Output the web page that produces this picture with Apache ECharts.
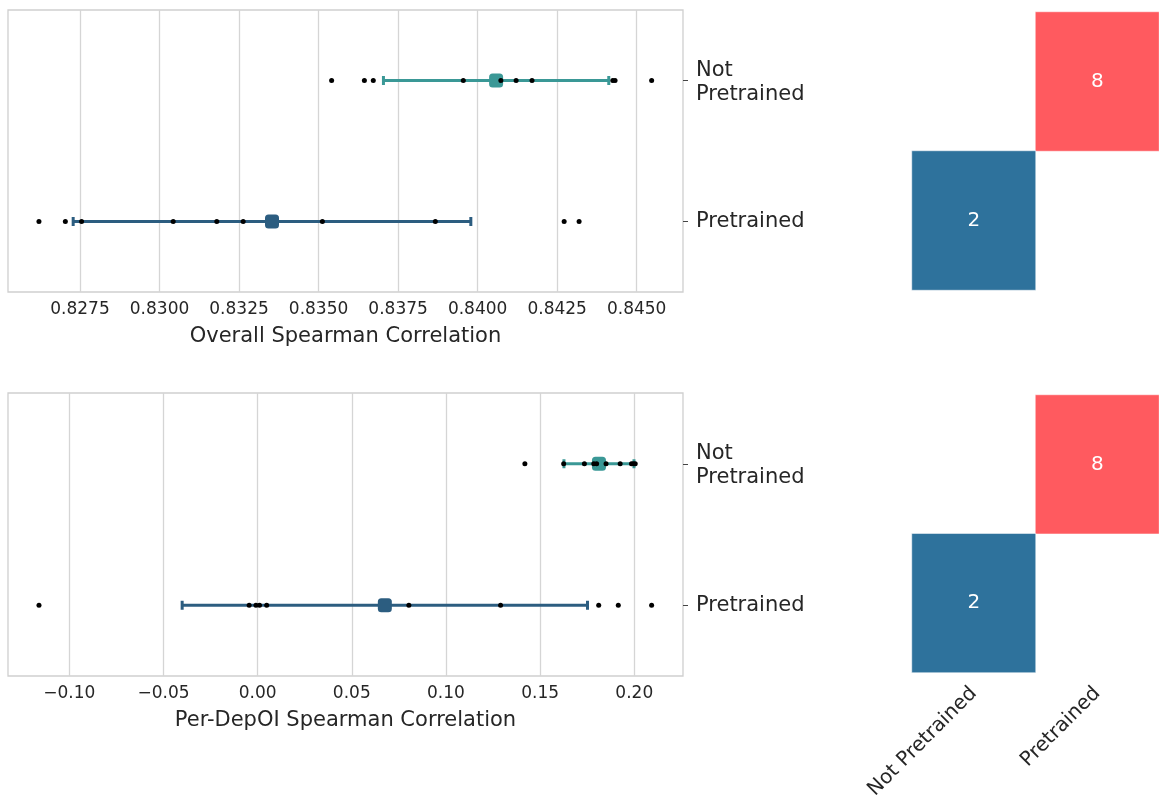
<!DOCTYPE html>
<html>
<head>
<meta charset="utf-8">
<script src="https://cdn.jsdelivr.net/npm/echarts@6/dist/echarts.min.js"></script>
<style>
html,body{margin:0;padding:0;background:#fff;}
#chart{width:1159px;height:802px;}
</style>
</head>
<body>
<div id="chart"></div>
<script>
// ---- data ----
const groups = ['Pretrained', 'Not Pretrained']; // bottom -> top
const overallNotPretrained = [0.83541, 0.83644, 0.83672, 0.83955, 0.84073, 0.84121, 0.84171, 0.84425, 0.84432, 0.84547];
const overallPretrained = [0.82621, 0.82704, 0.82755, 0.83043, 0.83180, 0.83263, 0.83512, 0.83867, 0.84272, 0.84319];
const perNotPretrained = [0.1419, 0.1625, 0.1735, 0.1785, 0.1800, 0.1850, 0.1925, 0.1985, 0.1995, 0.2005];
const perPretrained = [-0.1161, -0.0045, -0.0009, 0.0010, 0.0048, 0.0803, 0.1290, 0.1811, 0.1915, 0.2092];
const overallTicks = [0.8275, 0.8300, 0.8325, 0.8350, 0.8375, 0.8400, 0.8425, 0.8450];
const perTicks = [-0.10, -0.05, 0.00, 0.05, 0.10, 0.15, 0.20];
const heatCols = ['Not Pretrained', 'Pretrained'];
const heatRows = ['Pretrained', 'Not Pretrained']; // bottom -> top
const heatTop = [[1, 1, 8], [0, 0, 2]];       // [col, row, count]
const heatBottom = [[1, 1, 8], [0, 0, 2]];

// ---- styles ----
const colorNot = '#3a9896';
const colorPre = '#2c5d80';
const heatColors = {8: '#ff5a5f', 2: '#2e729c'};
const FONT = 'DejaVu Sans';
const TXT = '#262626';

function meanSd(a) {
  const m = a.reduce((s, v) => s + v, 0) / a.length;
  const v = a.reduce((s, x) => s + (x - m) * (x - m), 0) / (a.length - 1);
  return [m, Math.sqrt(v)];
}

function fmtTop(v) { return Number(v).toFixed(4); }
function fmtBot(v) { const s = Math.abs(v).toFixed(2); return (v < -1e-9 ? '\u2212' : '') + s; }

const chart = echarts.init(document.getElementById('chart'), null, {renderer: 'canvas'});

const grids = [
  {left: 8, top: 10, width: 675, height: 282},
  {left: 8, top: 393, width: 675, height: 283},
  {left: 912, top: 12, width: 253, height: 278},
  {left: 912, top: 395, width: 253, height: 279}
].map(g => Object.assign({show: true, borderColor: 'transparent', borderWidth: 0, containLabel: false}, g));
grids[0].borderColor = '#cfcfcf'; grids[0].borderWidth = 1.3;
grids[1].borderColor = '#cfcfcf'; grids[1].borderWidth = 1.3;

function valueAxis(gi, min, max, ticks, fmt, name) {
  return {
    type: 'value', gridIndex: gi, min: min, max: max,
    name: name, nameLocation: 'middle', nameGap: 34,
    nameTextStyle: {fontFamily: FONT, fontSize: 21, color: TXT},
    axisLine: {show: false},
    axisTick: {show: false, customValues: ticks},
    axisLabel: {customValues: ticks, formatter: fmt, fontFamily: FONT, fontSize: 17, color: TXT, margin: 9, showMinLabel: true, showMaxLabel: true},
    splitLine: {show: true, lineStyle: {color: '#d5d5d5', width: 1.3}}
  };
}
function catAxis(gi) {
  return {
    type: 'category', gridIndex: gi, data: groups, position: 'right',
    axisLine: {show: false, onZero: false},
    axisTick: {show: true, length: 5, inside: false, alignWithLabel: true, lineStyle: {color: '#444', width: 1}},
    axisLabel: {
      fontFamily: FONT, fontSize: 21, color: TXT, margin: 13, lineHeight: 24, align: 'left',
      formatter: v => v === 'Not Pretrained' ? '{a|Not\nPretrained}' : v,
      rich: {a: {fontFamily: FONT, fontSize: 21, color: TXT, lineHeight: 24, padding: [4, 0, 0, 0]}}
    },
    splitLine: {show: false}
  };
}

const xAxes = [
  valueAxis(0, 0.825237, 0.846456, overallTicks, fmtTop, 'Overall Spearman Correlation'),
  valueAxis(1, -0.13255, 0.22586, perTicks, fmtBot, 'Per-DepOI Spearman Correlation'),
  {type: 'category', gridIndex: 2, data: heatCols, show: false},
  {type: 'category', gridIndex: 3, data: heatCols,
   axisLine: {show: false}, axisTick: {show: false}, splitLine: {show: false},
   axisLabel: {rotate: 45, fontFamily: FONT, fontSize: 20, color: TXT, margin: 18}}
];
const yAxes = [
  catAxis(0), catAxis(1),
  {type: 'category', gridIndex: 2, data: heatRows, show: false},
  {type: 'category', gridIndex: 3, data: heatRows, show: false}
];

const series = [];
function addPanel(ai, notArr, preArr) {
  const sets = [[preArr, 0, colorPre], [notArr, 1, colorNot]];
  const eb = sets.map(([arr, idx, c]) => {
    const [m, s] = meanSd(arr);
    return {value: [m, idx, m - s, m + s], itemStyle: {color: c, opacity: 1}};
  });
  series.push({
    type: 'custom', xAxisIndex: ai, yAxisIndex: ai, z: 2,
    encode: {x: [0, 2, 3], y: 1},
    data: eb,
    renderItem: function (params, api) {
      const y = api.value(1);
      const p1 = api.coord([api.value(2), y]);
      const p2 = api.coord([api.value(3), y]);
      const c = api.visual('color');
      const h = 4.5;
      const st = {stroke: c, lineWidth: 3};
      return {type: 'group', children: [
        {type: 'line', shape: {x1: p1[0], y1: p1[1], x2: p2[0], y2: p2[1]}, style: st},
        {type: 'line', shape: {x1: p1[0], y1: p1[1] - h, x2: p1[0], y2: p1[1] + h}, style: st},
        {type: 'line', shape: {x1: p2[0], y1: p2[1] - h, x2: p2[0], y2: p2[1] + h}, style: st}
      ]};
    }
  });
  series.push({
    type: 'scatter', xAxisIndex: ai, yAxisIndex: ai, z: 3,
    symbol: 'roundRect', symbolSize: 14,
    data: eb.map(d => ({value: [d.value[0], d.value[1]], itemStyle: d.itemStyle})),
    silent: true
  });
  const dots = [];
  sets.forEach(([arr, idx]) => arr.forEach(v => dots.push([v, idx])));
  series.push({
    type: 'scatter', xAxisIndex: ai, yAxisIndex: ai, z: 4,
    symbol: 'circle', symbolSize: 5, itemStyle: {color: '#000', opacity: 1},
    data: dots, silent: true
  });
}
addPanel(0, overallNotPretrained, overallPretrained);
addPanel(1, perNotPretrained, perPretrained);

function heat(ai, arr) {
  series.push({
    type: 'heatmap', xAxisIndex: ai, yAxisIndex: ai,
    data: arr.map(d => ({value: d, itemStyle: {color: heatColors[d[2]], borderColor: 'rgba(255,255,255,0.5)', borderWidth: 1}})),
    label: {show: true, color: '#ffffff', fontFamily: FONT, fontSize: 20, formatter: p => String(p.value[2])},
    emphasis: {disabled: true}
  });
}
heat(2, heatTop);
heat(3, heatBottom);

chart.setOption({
  backgroundColor: '#ffffff',
  animation: false,
  grid: grids,
  xAxis: xAxes,
  yAxis: yAxes,
  series: series
});
</script>
</body>
</html>
